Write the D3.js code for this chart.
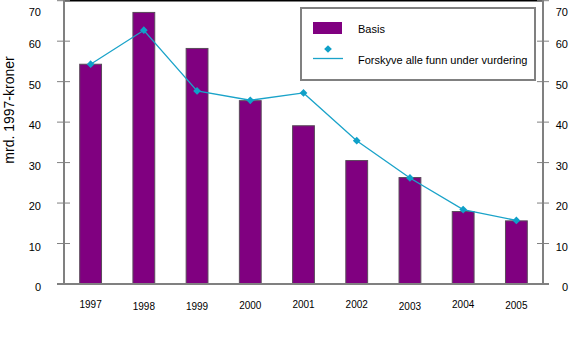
<!DOCTYPE html>
<html>
<head>
<meta charset="utf-8">
<script src="https://cdn.jsdelivr.net/npm/d3@7"></script>
<style>
  html, body { margin: 0; padding: 0; background: #fff; }
  svg { display: block; font-family: "Liberation Sans", Arial, sans-serif; }
</style>
</head>
<body>
<svg id="chart" width="572" height="346"></svg>
<script>
// Years on the category axis
const years = ["1997", "1998", "1999", "2000", "2001", "2002", "2003", "2004", "2005"];
// Basis (bars), mrd. 1997-kroner
const basis = [54.3, 67.1, 58.2, 45.3, 39.1, 30.5, 26.3, 17.9, 15.6];
// Forskyve alle funn under vurdering (line)
const forskyve = [54.3, 62.7, 47.7, 45.4, 47.2, 35.4, 26.2, 18.4, 15.7];
// Axis ticks
const yTicks = [0, 10, 20, 30, 40, 50, 60, 70];
// Small vertical offsets of year labels
const yearOffsets = [0, 2, 2, 1, 0, 0, 2, 0, 1];

const svg = d3.select("#chart");
const plotLeft = 64, plotRight = 543, plotTop = 0.7, plotBottom = 284;

const x = d3.scaleBand().domain(years).range([plotLeft, plotRight]).paddingInner(0.59).paddingOuter(0.295);
const y = d3.scaleLinear().domain([0, 70]).range([plotBottom, plotTop]);

// Diamond marker: a square turned 45 degrees
const diamond = d3.symbol().type(d3.symbolSquare).size(30)();

// Bars
svg.append("g").selectAll("rect").data(basis).join("rect")
  .attr("x", (d, i) => x(years[i]))
  .attr("y", d => y(d))
  .attr("width", x.bandwidth())
  .attr("height", d => y(0) - y(d))
  .attr("fill", "#800080")
  .attr("stroke", "#5a4a5a")
  .attr("stroke-width", 1);

// Frame: top border and axes
svg.append("line").attr("x1", plotLeft).attr("x2", plotRight).attr("y1", 0.5).attr("y2", 0.5)
  .attr("stroke", "#000").attr("stroke-width", 2);

// Tick labels sit a little below their tick; the top one is kept inside the view
const labelY = d => Math.max(y(d) + 3.5, 12);

const leftAxis = d3.axisLeft(y).tickValues(yTicks).tickSize(0).tickPadding(0).tickFormat(d3.format("d"));
const gL = svg.append("g").attr("transform", `translate(${plotLeft},0)`).call(leftAxis);
gL.select(".domain").remove();
gL.selectAll(".tick").attr("transform", d => `translate(0,${labelY(d)})`);
gL.selectAll("text").attr("x", -23).attr("font-size", 11).attr("fill", "#000").attr("dy", "0.32em")
  .attr("font-family", "Liberation Sans, Arial, sans-serif");

const rightAxis = d3.axisRight(y).tickValues(yTicks).tickSize(0).tickPadding(0).tickFormat(d3.format("d"));
const gR = svg.append("g").attr("transform", `translate(${plotRight},0)`).call(rightAxis);
gR.select(".domain").remove();
gR.selectAll(".tick").attr("transform", d => `translate(0,${labelY(d)})`);
gR.selectAll("text").attr("x", 25).attr("text-anchor", "end").attr("font-size", 11).attr("fill", "#000").attr("dy", "0.32em")
  .attr("font-family", "Liberation Sans, Arial, sans-serif");

// Tick marks crossing each axis
svg.append("g").selectAll("line").data(yTicks.filter(t => t > 0)).join("line")
  .attr("x1", plotLeft - 7).attr("x2", plotLeft + 6).attr("y1", d => y(d)).attr("y2", d => y(d))
  .attr("stroke", "#808080").attr("stroke-width", 1);
svg.append("g").selectAll("line").data(yTicks.filter(t => t > 0)).join("line")
  .attr("x1", plotRight - 6).attr("x2", plotRight + 6).attr("y1", d => y(d)).attr("y2", d => y(d))
  .attr("stroke", "#808080").attr("stroke-width", 1);

svg.append("line").attr("x1", plotLeft).attr("x2", plotLeft).attr("y1", 0).attr("y2", plotBottom)
  .attr("stroke", "#808080").attr("stroke-width", 2);
svg.append("line").attr("x1", plotRight).attr("x2", plotRight).attr("y1", 0).attr("y2", plotBottom)
  .attr("stroke", "#808080").attr("stroke-width", 2);
svg.append("line").attr("x1", plotLeft - 7).attr("x2", plotRight + 6).attr("y1", plotBottom).attr("y2", plotBottom)
  .attr("stroke", "#808080").attr("stroke-width", 2);

// Year labels
svg.append("g").selectAll("text").data(years).join("text")
  .attr("x", d => x(d) + x.bandwidth() / 2)
  .attr("y", (d, i) => 308 + yearOffsets[i])
  .attr("text-anchor", "middle")
  .attr("font-size", 10)
  .attr("fill", "#000")
  .text(d => d);

// Line series
const cx = (d, i) => x(years[i]) + x.bandwidth() / 2;
svg.append("path").datum(forskyve)
  .attr("d", d3.line().x(cx).y(d => y(d)))
  .attr("fill", "none").attr("stroke", "#1aa3c9").attr("stroke-width", 1.3);
svg.append("g").selectAll("path").data(forskyve).join("path")
  .attr("transform", (d, i) => `translate(${cx(d, i)},${y(d)}) rotate(45)`)
  .attr("d", diamond)
  .attr("fill", "#0fa0c8");

// Y axis title
svg.append("text")
  .attr("transform", "translate(14,110) rotate(-90)")
  .attr("text-anchor", "middle")
  .attr("font-size", 14)
  .attr("fill", "#000")
  .text("mrd. 1997-kroner");

// Legend
const lg = svg.append("g");
lg.append("rect").attr("x", 301).attr("y", 8).attr("width", 234).attr("height", 72)
  .attr("fill", "#fff").attr("stroke", "#808080").attr("stroke-width", 2);
lg.append("rect").attr("x", 313).attr("y", 22).attr("width", 29).attr("height", 12)
  .attr("fill", "#800080");
lg.append("text").attr("x", 358).attr("y", 33).attr("font-size", 11).text("Basis");
lg.append("line").attr("x1", 313).attr("x2", 343).attr("y1", 58.5).attr("y2", 58.5)
  .attr("stroke", "#1aa3c9").attr("stroke-width", 1.3);
lg.append("path").attr("transform", "translate(328,49) rotate(45)")
  .attr("d", diamond).attr("fill", "#0fa0c8");
lg.append("text").attr("x", 358).attr("y", 64).attr("font-size", 11).text("Forskyve alle funn under vurdering");
</script>
</body>
</html>
